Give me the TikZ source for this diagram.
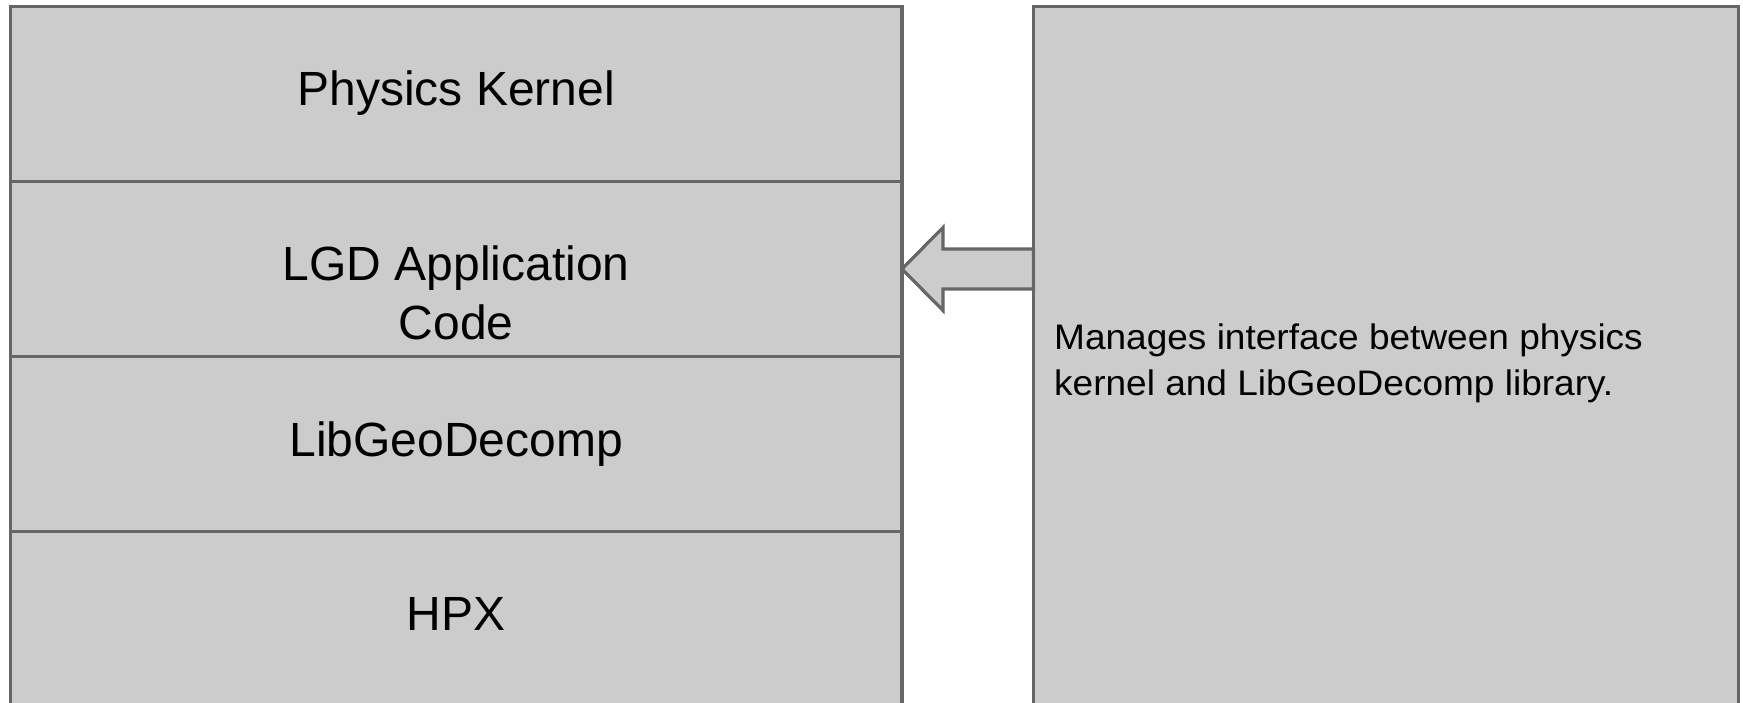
\documentclass[tikz,border=0pt]{standalone}
\usepackage{fontspec}
\setmainfont{Liberation Sans}
\newfontfamily\descfont[FakeStretch=1.043]{Liberation Sans}
\usetikzlibrary{calc}
\definecolor{boxfill}{HTML}{CCCCCC}
\definecolor{boxline}{HTML}{666666}
\tikzset{
  layer/.style={draw=boxline, fill=boxfill, line width=3.2pt, rectangle, inner sep=0pt, outer sep=0pt,
    minimum width=891.5pt, minimum height=175pt},
  sidebox/.style={draw=boxline, fill=boxfill, line width=3.2pt, rectangle, inner sep=0pt, outer sep=0pt,
    minimum width=705pt, minimum height=700pt},
  biglbl/.style={font=\fontsize{48}{59}\selectfont, text=black, inner sep=0pt, align=center},
  desclbl/.style={font=\descfont\fontsize{35.5}{46}\selectfont, text=black, inner sep=0pt, align=left},
  fatarrow/.style={draw=boxline, fill=boxfill, line width=3.2pt, line join=miter}
}
\begin{document}
\begin{tikzpicture}[x=1pt,y=-1pt]
\useasboundingbox (0,0) rectangle (1743,702);
\clip (0,0) rectangle (1743,702);
\node[layer] (b1) at (456.25,94) {};
\node[layer] (b2) at (456.25,269) {};
\node[layer] (b3) at (456.25,444) {};
\node[layer] (b4) at (456.25,619) {};
\node[sidebox] (side) at (1386,356.5) {};
\node[biglbl, anchor=base] (t1) at ($(b1.center)+(0,11)$) {Physics Kernel};
\node[biglbl, anchor=center] (t2) at ($(b2.center)+(0,24)$) {LGD Application\\Code};
\node[biglbl, anchor=base] (t3) at ($(b3.center)+(0,12)$) {LibGeoDecomp};
\node[biglbl, anchor=base] (t4) at ($(b4.center)+(0,11)$) {HPX};
\node[desclbl, anchor=base west] (d) at (1054,395) {Manages interface between physics\\kernel and LibGeoDecomp library.};
\coordinate (tip) at (b2.east);
\coordinate (tail) at (b2.east -| side.west);
\draw[fatarrow] (tip) -- ($(tip)+(41,-41.5)$) -- ($(tip)+(41,-20)$) -- ($(tail)+(0,-20)$)
  -- ($(tail)+(0,20)$) -- ($(tip)+(41,20)$) -- ($(tip)+(41,41.5)$) -- cycle;
\end{tikzpicture}
\end{document}
